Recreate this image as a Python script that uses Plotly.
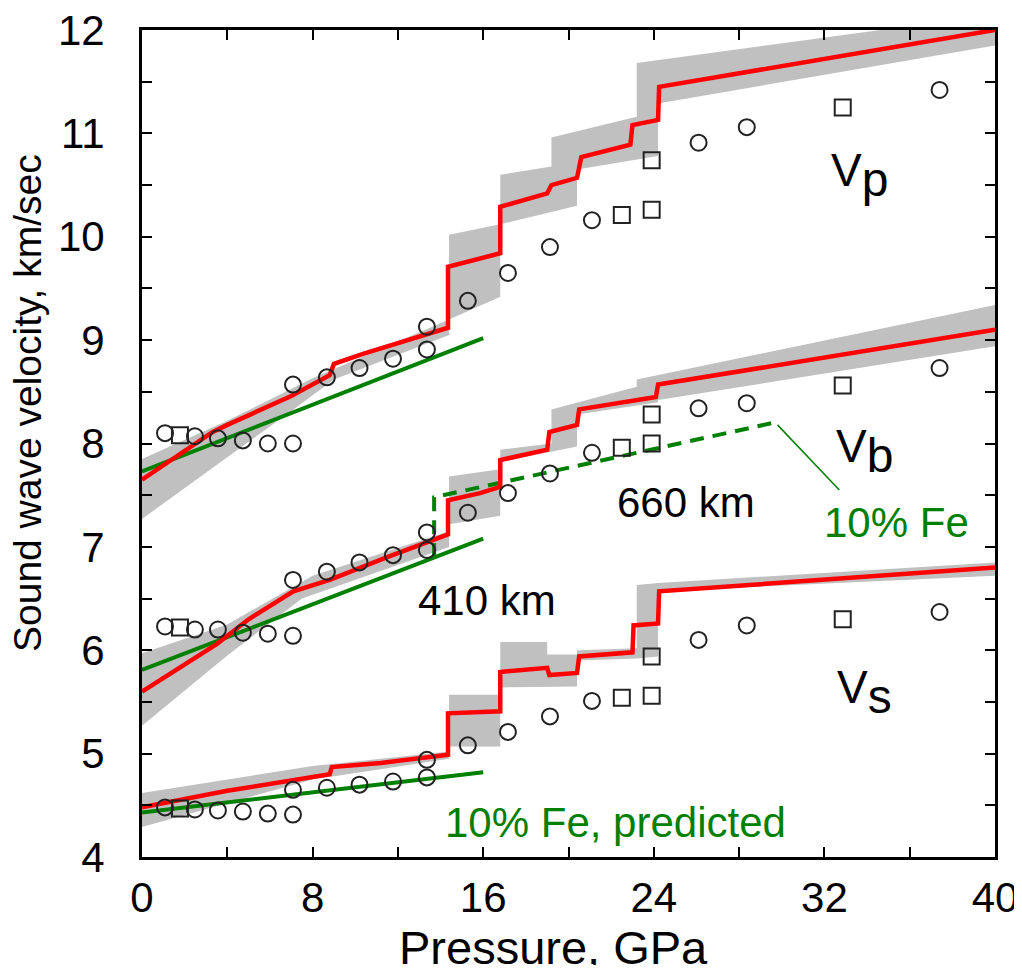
import plotly.graph_objects as go

FONT = "Arial, Liberation Sans, sans-serif"
GRAY = "#c0c0c0"
RED = "#ff0000"
GREEN = "#008000"

# ---------------- data ----------------
# Gray uncertainty bands (upper edge, lower edge)
vp_up_x = [0, 4, 8, 14.4, 14.4, 16.8, 16.8, 19.2, 19.2, 23.2, 23.2, 40]
vp_up_y = [7.85, 8.22, 8.63, 9.2, 10.02, 10.12, 10.6, 10.68, 10.96, 11.16, 11.68, 12.15]
vp_lo_x = [0, 4, 7.1, 9, 14.4, 14.4, 16.8, 16.8, 20.4, 20.4, 24.2, 24.2, 40]
vp_lo_y = [7.27, 7.87, 8.33, 8.62, 9.05, 9.2, 9.42, 10.12, 10.3, 10.65, 10.78, 11.29, 11.85]

vb_up_x = [0, 4, 8, 14.4, 14.4, 16.8, 16.8, 19.2, 19.2, 23.2, 23.2, 40]
vb_up_y = [5.97, 6.25, 6.72, 7.15, 7.68, 7.75, 7.94, 8.0, 8.33, 8.55, 8.62, 9.34]
vb_lo_x = [0, 4, 7.5, 14.4, 14.4, 16.8, 16.8, 19.2, 20.4, 20.4, 24.2, 24.2, 40]
vb_lo_y = [5.27, 5.95, 6.5, 7.0, 7.22, 7.3, 7.82, 7.92, 7.97, 8.28, 8.4, 8.42, 8.94]

vs_up_x = [0, 8, 14.4, 14.4, 16.8, 16.8, 19.0, 19.0, 20.4, 20.4, 23.2, 23.2, 24.2, 40]
vs_up_y = [4.62, 4.88, 5.02, 5.57, 5.57, 6.08, 6.08, 5.96, 5.96, 6.0, 6.02, 6.63, 6.65, 6.85]
vs_lo_x = [0, 8, 14.4, 14.4, 16.8, 16.8, 20.4, 20.4, 23.2, 24.2, 24.2, 40]
vs_lo_y = [4.29, 4.75, 4.95, 5.07, 5.07, 5.64, 5.65, 5.9, 5.92, 5.94, 6.57, 6.72]

# Red model curves
vp_red_x = [0, 2, 3.3, 4, 6, 7, 8.8, 9.0, 10.4, 14.35, 14.35, 16.8, 16.8, 19.0, 19.2, 20.4, 20.6, 22.9, 23.0, 24.2, 24.25, 40]
vp_red_y = [7.65, 7.93, 8.11, 8.18, 8.37, 8.46, 8.66, 8.77, 8.87, 9.12, 9.71, 9.84, 10.29, 10.42, 10.5, 10.57, 10.77, 10.89, 11.08, 11.13, 11.45, 12.0]

vb_red_x = [0, 2, 3.5, 5, 7.1, 8.8, 11.5, 14.35, 14.35, 15.85, 16.8, 16.8, 19.0, 19.1, 20.4, 20.5, 24.1, 24.2, 40]
vb_red_y = [5.6, 5.86, 6.06, 6.3, 6.57, 6.68, 6.9, 7.12, 7.45, 7.52, 7.58, 7.84, 7.94, 8.11, 8.18, 8.33, 8.45, 8.57, 9.1]

vs_red_x = [0, 4, 8.8, 8.9, 11.2, 14.35, 14.35, 16.8, 16.8, 19.0, 19.1, 20.4, 20.5, 23.0, 23.05, 24.2, 24.25, 40]
vs_red_y = [4.48, 4.64, 4.8, 4.87, 4.91, 4.99, 5.39, 5.41, 5.79, 5.83, 5.76, 5.78, 5.94, 5.98, 6.24, 6.26, 6.57, 6.80]

# Green "10% Fe, predicted" lines
green_x = [0, 16]
vp_green_y = [7.73, 9.02]
vb_green_y = [5.81, 7.08]
vs_green_y = [4.43, 4.82]

# Green dashed Vb (10% Fe)
vb_fe_x = [13.7, 13.7, 29.6]
vb_fe_y = [6.9, 7.48, 8.2]
leader_x = [29.8, 32.7]
leader_y = [8.18, 7.55]

# Observed (seismic) points
obs_x = [1.08, 1.78, 2.48, 3.56, 4.73, 5.9, 7.08,
         7.08, 8.67, 10.2, 11.77, 13.36, 13.36, 15.28,
         17.16, 19.13, 21.1, 22.5, 23.9, 23.9, 26.1, 28.36, 32.86, 37.4]
vp_obs_y = [8.1, 8.08, 8.07, 8.05, 8.03, 8.0, 8.0,
            8.57, 8.64, 8.73, 8.82, 8.91, 9.13, 9.38,
            9.65, 9.9, 10.16, 10.21, 10.26, 10.74, 10.91, 11.06, 11.25, 11.42]
vb_obs_y = [6.23, 6.22, 6.2, 6.2, 6.17, 6.16, 6.14,
            6.68, 6.76, 6.85, 6.92, 6.97, 7.14, 7.33,
            7.52, 7.71, 7.91, 7.96, 8.0, 8.28, 8.34, 8.39, 8.56, 8.73]
vs_obs_y = [4.48, 4.47, 4.46, 4.45, 4.44, 4.42, 4.41,
            4.65, 4.67, 4.70, 4.73, 4.77, 4.94, 5.08,
            5.21, 5.36, 5.51, 5.54, 5.56, 5.94, 6.10, 6.24, 6.30, 6.37]
obs_sym = ["circle-open", "square-open", "circle-open", "circle-open", "circle-open", "circle-open", "circle-open",
           "circle-open", "circle-open", "circle-open", "circle-open", "circle-open", "circle-open", "circle-open",
           "circle-open", "circle-open", "circle-open", "square-open", "square-open", "square-open",
           "circle-open", "circle-open", "square-open", "circle-open"]

x_ticks = [0, 8, 16, 24, 32, 40]
x_labels = ["0", "8", "16", "24", "32", "40"]
y_ticks = [4, 5, 6, 7, 8, 9, 10, 11, 12]
y_labels = ["4", "5", "6", "7", "8", "9", "10", "11", "12"]

# ---------------- figure ----------------
fig = go.Figure()

for ux, uy, lx, ly in [(vp_up_x, vp_up_y, vp_lo_x, vp_lo_y),
                       (vb_up_x, vb_up_y, vb_lo_x, vb_lo_y),
                       (vs_up_x, vs_up_y, vs_lo_x, vs_lo_y)]:
    fig.add_trace(go.Scatter(x=ux + lx[::-1], y=uy + ly[::-1], fill="toself",
                             fillcolor=GRAY, line=dict(width=0, color=GRAY),
                             mode="lines", hoverinfo="skip", showlegend=False))

for gy in [vp_green_y, vb_green_y, vs_green_y]:
    fig.add_trace(go.Scatter(x=green_x, y=gy, mode="lines",
                             line=dict(color=GREEN, width=4), showlegend=False))

fig.add_trace(go.Scatter(x=vb_fe_x, y=vb_fe_y, mode="lines",
                         line=dict(color=GREEN, width=4, dash="14px,9px"), showlegend=False))
fig.add_trace(go.Scatter(x=leader_x, y=leader_y, mode="lines",
                         line=dict(color=GREEN, width=1.5), showlegend=False))

for rx, ry in [(vp_red_x, vp_red_y), (vb_red_x, vb_red_y), (vs_red_x, vs_red_y)]:
    fig.add_trace(go.Scatter(x=rx, y=ry, mode="lines",
                             line=dict(color=RED, width=4.5), showlegend=False))

for oy in [vp_obs_y, vb_obs_y, vs_obs_y]:
    fig.add_trace(go.Scatter(x=obs_x, y=oy, mode="markers",
                             marker=dict(symbol=obs_sym, size=16, color="#222222",
                                         line=dict(width=2, color="#222222")),
                             showlegend=False))

ann = []
def txt(x, y, s, size, color="black", **kw):
    d = dict(x=x, y=y, xref="x", yref="y", text=s, showarrow=False,
             font=dict(family=FONT, size=size, color=color),
             xanchor="center", yanchor="middle")
    d.update(kw)
    ann.append(d)

SUB = "<sub><span style='font-size:48px'>%s</span></sub>"
txt(33.66, 10.60, "V" + SUB % "p", 46)
txt(33.9, 7.93, "V" + SUB % "b", 46)
txt(33.9, 5.60, "V" + SUB % "s", 46)
txt(16.17, 6.48, "410 km", 42)
txt(25.5, 7.43, "660 km", 42)
txt(35.4, 7.24, "10% Fe", 42, GREEN)
txt(22.2, 4.33, "10% Fe, predicted", 42, GREEN)

ann.append(dict(x=-0.1336, y=0.549, xref="paper", yref="paper", text="Sound wave velocity, km/sec",
                textangle=-90, showarrow=False, xanchor="center", yanchor="middle",
                font=dict(family=FONT, size=39, color="black")))
ann.append(dict(x=0.4824, y=-0.110, xref="paper", yref="paper", text="Pressure, GPa",
                showarrow=False, xanchor="center", yanchor="middle",
                font=dict(family=FONT, size=47, color="black")))

axis_common = dict(showgrid=False, zeroline=False, showline=True, linewidth=3, linecolor="black",
                   mirror="ticks", ticks="inside", ticklen=10, tickwidth=2, tickcolor="black",
                   automargin=False, ticklabeloverflow="allow",
                   tickfont=dict(family=FONT, size=42, color="black"))
minor_common = dict(ticks="inside", ticklen=10, tickwidth=2, tickcolor="black", showgrid=False)

# The page body has an 8px margin; the figure is sized so the plot area lands
# at page pixels x 142-995, y 30-857.
fig.update_layout(
    width=1014, height=957,
    margin=dict(l=134, r=27, t=22, b=108),
    paper_bgcolor="white", plot_bgcolor="white",
    xaxis=dict(range=[0, 40], tickmode="array", tickvals=x_ticks, ticktext=x_labels,
               minor=dict(dtick=4, tick0=0, **minor_common),
               ticklabelstandoff=2, **axis_common),
    yaxis=dict(range=[4, 12], tickmode="array", tickvals=y_ticks, ticktext=y_labels,
               minor=dict(dtick=0.5, tick0=4, **minor_common),
               ticklabelstandoff=26, **axis_common),
    annotations=ann,
)

fig.write_html("out.html")
